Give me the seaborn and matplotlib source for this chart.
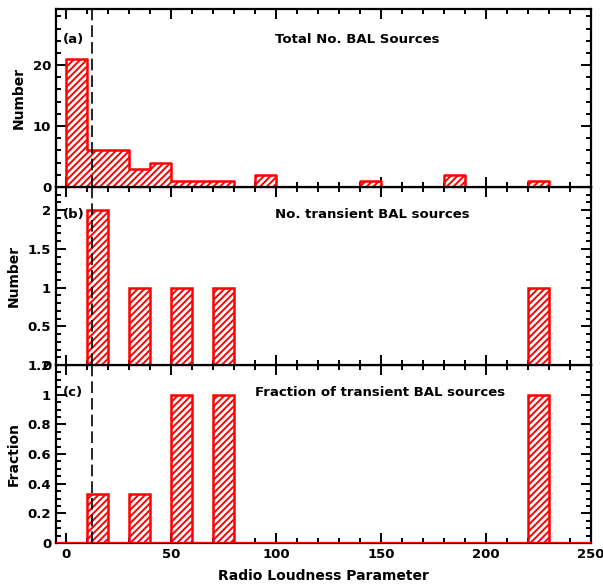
import numpy as np
import pandas as pd
import matplotlib
matplotlib.use("Agg")
import matplotlib.pyplot as plt
from matplotlib.ticker import MultipleLocator, FuncFormatter
import seaborn as sns

# Histogram bins of the radio loudness parameter (width 10)
bin_edges = list(range(0, 260, 10))
total_counts = [21, 6, 6, 3, 4, 1, 1, 1, 0, 2, 0, 0, 0, 0, 1, 0, 0, 0, 2, 0, 0, 0, 1, 0, 0]

# Bins that contain transient BAL sources
transient_lo = [10, 30, 50, 70, 220]
transient_counts = [2, 1, 1, 1, 1]

# Radio-loud boundary
r_cut = 12

panel_titles = ["Total No. BAL Sources", "No. transient BAL sources",
                "Fraction of transient BAL sources"]
panel_tags = ["(a)", "(b)", "(c)"]
y_labels = ["Number", "Number", "Fraction"]
x_label = "Radio Loudness Parameter"

sns.set_style("ticks")
plt.rcParams.update({
    "font.family": ["DejaVu Sans"],
    "font.weight": "bold",
    "text.color": "black",
    "axes.labelcolor": "black",
    "xtick.color": "black",
    "ytick.color": "black",
    "hatch.color": "red",
    "hatch.linewidth": 1.4,
    "axes.linewidth": 1.6,
})

centers = [lo + 5 for lo in bin_edges[:-1]]
df_total = pd.DataFrame({"R": centers, "n": total_counts})
tr_centers = [lo + 5 for lo in transient_lo]
total_lookup = dict(zip(bin_edges[:-1], total_counts))
fraction = [t / total_lookup[lo] for lo, t in zip(transient_lo, transient_counts)]
df_tr = pd.DataFrame({"R": tr_centers, "n": transient_counts, "f": fraction})

fig = plt.figure(figsize=(6.03, 5.84), dpi=100)
left, width, height = 56 / 603, 535 / 603, 178 / 584
ax_c = fig.add_axes([left, 1 - 543 / 584, width, height])
ax_b = fig.add_axes([left, 1 - 365 / 584, width, height])
ax_a = fig.add_axes([left, 1 - 187 / 584, width, height])
axes = [ax_a, ax_b, ax_c]

# (a) total counts as a filled step histogram
sns.histplot(data=df_total, x="R", weights="n", bins=bin_edges, element="step",
             fill=True, ax=ax_a)
coll = ax_a.collections[-1]
coll.set_facecolor("white")
coll.set_edgecolor("red")
coll.set_hatch("/////")
coll.set_linewidth(1.8)

# (b) and (c) separate bars
bar_kw = dict(native_scale=True, width=0.5, errorbar=None, color="white",
              edgecolor="red", hatch="/////", linewidth=1.8)
sns.barplot(data=df_tr, x="R", y="n", ax=ax_b, **bar_kw)
sns.barplot(data=df_tr, x="R", y="f", ax=ax_c, **bar_kw)
ax_c.axhline(0, color="red", lw=2.2, zorder=3)

ylims = [(0, 29.2), (0, 2.3), (0, 1.2)]
ymaj = [10, 0.5, 0.2]
ymin = [2, 0.1, 0.05]
title_pos = [(0.409, 0.83), (0.41, 0.843), (0.372, 0.848)]
fmt = FuncFormatter(lambda v, p: f"{v:g}")

for i, ax in enumerate(axes):
    ax.axvline(r_cut, color="black", lw=1.2, linestyle=(0, (7, 3)), zorder=4)
    ax.set_xlim(-5, 250)
    ax.set_ylim(*ylims[i])
    ax.xaxis.set_major_locator(MultipleLocator(50))
    ax.xaxis.set_minor_locator(MultipleLocator(10))
    ax.yaxis.set_major_locator(MultipleLocator(ymaj[i]))
    ax.yaxis.set_minor_locator(MultipleLocator(ymin[i]))
    ax.yaxis.set_major_formatter(fmt)
    ax.xaxis.set_major_formatter(fmt)
    ax.tick_params(which="both", direction="in", top=True, right=True,
                   labelsize=9.5, width=1.4, color="black", labelcolor="black")
    ax.tick_params(which="major", length=7)
    ax.tick_params(which="minor", length=3.5)
    for s in ax.spines.values():
        s.set_visible(True)
        s.set_color("black")
    ax.set_ylabel(y_labels[i], fontsize=10, fontweight="bold", labelpad=5,
                  color="black")
    ax.set_xlabel("")
    if i < 2:
        ax.tick_params(labelbottom=False)
    tx, ty = title_pos[i]
    ax.text(0.012, ty, panel_tags[i], transform=ax.transAxes, fontsize=9.5,
            fontweight="bold", va="center", ha="left", color="black")
    ax.text(tx, ty, panel_titles[i], transform=ax.transAxes, fontsize=9.5,
            fontweight="bold", va="center", ha="left", color="black")

ax_c.set_xlabel(x_label, fontsize=10, fontweight="bold", labelpad=6,
                color="black")

fig.savefig("out.png", dpi=100)
